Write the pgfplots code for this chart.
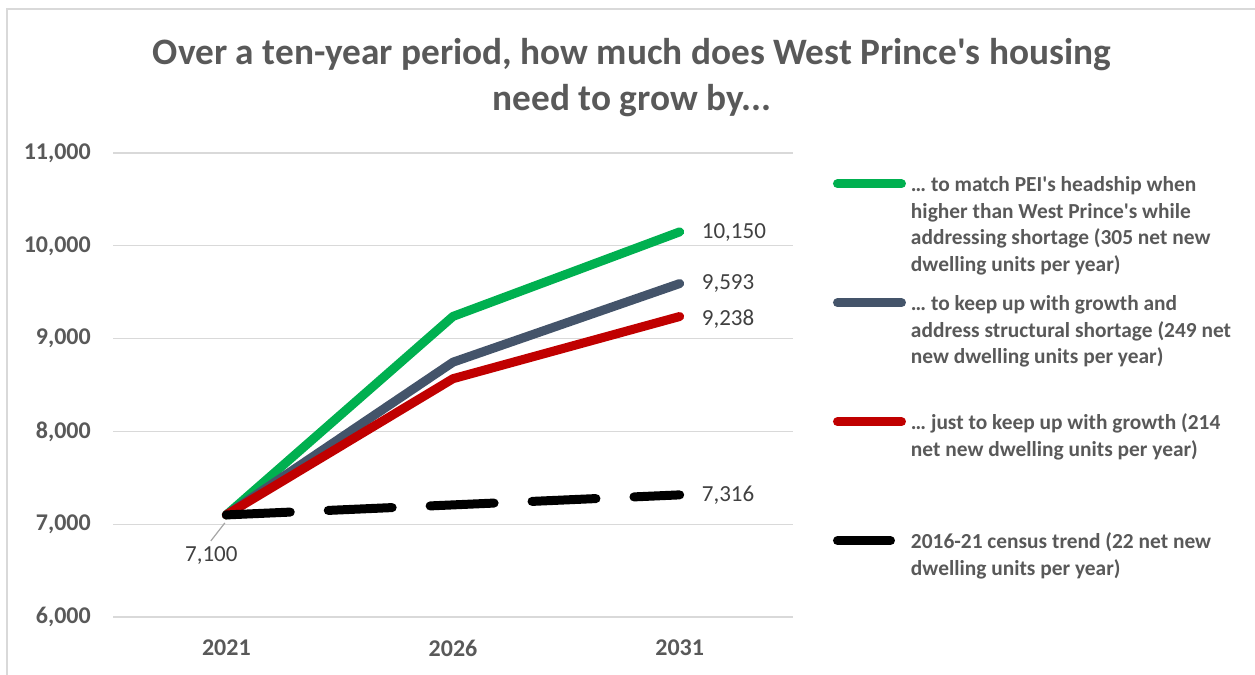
\documentclass[border=0pt]{standalone}
\usepackage{fontspec}
\setmainfont{Carlito}
\usepackage{pgfplots}
\pgfplotsset{compat=1.18}
\definecolor{cgreen}{HTML}{00B050}
\definecolor{cgrey}{HTML}{44546A}
\definecolor{cred}{HTML}{C00000}
\definecolor{ctext}{HTML}{595959}
\definecolor{clabel}{HTML}{404040}
\definecolor{cgrid}{HTML}{D9D9D9}
\newcommand{\legimg}[2]{\draw[#1, line width=9bp, line cap=round, solid, yshift=39.4bp] (4.5bp,0) -- (#2,0); \path[draw=none,fill=none] (0,0) (78bp,0);}
\begin{document}
\begin{tikzpicture}
\useasboundingbox (0,0) rectangle (1255bp,675bp);
\draw[cgrid, line width=1.2bp] (7bp,0) -- (7bp,666bp) -- (1255bp,666bp);
\node[anchor=north, align=center, inner sep=0pt, text=ctext, font=\fontsize{37.3bp}{46bp}\selectfont\bfseries] at (632bp,637bp)
  {Over a ten-year period, how much does West Prince\textquotesingle s housing\\ need to grow by...};
\begin{axis}[
  at={(113bp,58bp)}, anchor=south west,
  scale only axis, width=680bp, height=464bp,
  xmin=-0.5, xmax=2.5, ymin=6000, ymax=11000,
  axis line style={draw=none},
  xtick={0,1,2}, xticklabels={2021,2026,2031},
  ytick={6000,7000,8000,9000,10000,11000},
  yticklabels={{6,000},{7,000},{8,000},{9,000},{10,000},{11,000}},
  scaled y ticks=false,
  major tick length=0pt,
  ymajorgrids, grid style={cgrid, line width=1.2bp},
  tick label style={text=ctext, font=\fontsize{24bp}{28bp}\selectfont\bfseries, inner sep=0pt},
  xticklabel style={anchor=north, yshift=-23bp},
  yticklabel style={anchor=east, xshift=-22bp},
  clip=false,
  legend style={at={(axis description cs:1.0588,0.956)}, anchor=north west, draw=none, fill=none,
    inner sep=0pt, outer sep=0pt, column sep=0pt, row sep=19.4bp,
    nodes={inner sep=0pt, align=left, anchor=west, text=ctext, font=\fontsize{21.4bp}{26.5bp}\selectfont\bfseries}},
  legend cell align=left,
]
\addplot[cgreen, line width=9bp, line join=round, line cap=round,
  legend image code/.code={\legimg{cgreen}{68.5bp}}] coordinates {(0,7100) (1,9239) (2,10150)};
\addlegendentry{\strut… to match PEI\textquotesingle s headship when\\higher than West Prince\textquotesingle s while\\addressing shortage (305 net new\\dwelling units per year)\strut}
\addplot[cgrey, line width=9bp, line join=round, line cap=round,
  legend image code/.code={\legimg{cgrey}{68.5bp}}] coordinates {(0,7100) (1,8746) (2,9593)};
\addlegendentry{\strut… to keep up with growth and\\address structural shortage (249 net\\new dwelling units per year)\\\strut}
\addplot[cred, line width=9bp, line join=round, line cap=round,
  legend image code/.code={\legimg{cred}{68.5bp}}] coordinates {(0,7100) (1,8568) (2,9238)};
\addlegendentry{\strut… just to keep up with growth (214\\net new dwelling units per year)\\~\\\strut}
\addplot[black, line width=9bp, line join=round, line cap=round, dash pattern=on 64bp off 38bp,
  legend image code/.code={\legimg{black}{57.5bp}}] coordinates {(0,7100) (1,7208) (2,7316)};
\addlegendentry{\strut 2016-21 census trend (22 net new\\dwelling units per year)\\~\\\strut}
\begin{scope}[every node/.style={anchor=west, inner sep=0pt, text=clabel, font=\fontsize{23bp}{28bp}\selectfont}]
\node[xshift=22bp, yshift=-1bp] at (axis cs:2,10150) {10,150};
\node[xshift=22bp] at (axis cs:2,9593) {9,593};
\node[xshift=22bp, yshift=-3bp] at (axis cs:2,9238) {9,238};
\node[xshift=22bp] at (axis cs:2,7316) {7,316};
\end{scope}
\draw[black!35, line width=1.2bp] (axis cs:0,7100) ++(-1.5bp,-8bp) -- ++(-14bp,-18bp);
\node[inner sep=0pt, text=clabel, font=\fontsize{23bp}{28bp}\selectfont] at ([xshift=-15bp,yshift=-41bp]axis cs:0,7100) {7,100};
\end{axis}
\end{tikzpicture}
\end{document}
